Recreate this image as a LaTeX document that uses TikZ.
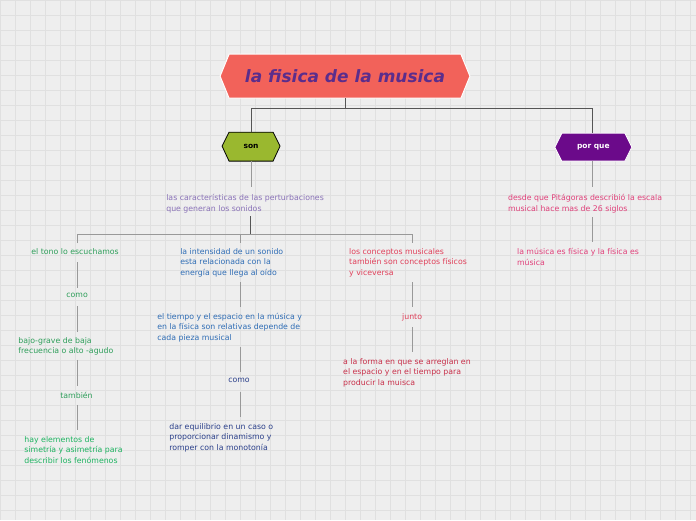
\documentclass[tikz,border=0pt]{standalone}
\usepackage{fontspec}
\setmainfont{DejaVu Sans}
\usetikzlibrary{shapes.geometric}
\definecolor{bg}{HTML}{EEEEEE}
\definecolor{gridc}{HTML}{E0E0E0}
\definecolor{ttl}{HTML}{F2625A}
\definecolor{ttltext}{HTML}{5B2D8C}
\definecolor{sonc}{HTML}{9AB82F}
\definecolor{porc}{HTML}{6B0A8A}
\definecolor{lav}{HTML}{8A72B8}
\definecolor{grn}{HTML}{2E9E5A}
\definecolor{grn2}{HTML}{1DB360}
\definecolor{blu}{HTML}{2F6DB5}
\definecolor{dblu}{HTML}{2A3F8A}
\definecolor{red1}{HTML}{E0405A}
\definecolor{red2}{HTML}{C8304A}
\definecolor{pink}{HTML}{E0407A}
\definecolor{conn}{HTML}{555555}
\tikzset{
  txt/.style={anchor=north west, align=left, inner sep=0pt, font=\fontsize{7.8}{10.5}\selectfont},
  lnk/.style={draw=conn, line width=0.9pt},
  lnk2/.style={draw=gray!80, line width=0.8pt}
}
\begin{document}
\begin{tikzpicture}[x=1pt,y=-1pt]
\fill[bg] (0,0) rectangle (696,520);
\foreach \i in {0,15,...,695} \draw[gridc,line width=0.5pt] (\i,0) -- (\i,520);
\foreach \j in {0,15,...,519} \draw[gridc,line width=0.5pt] (0,\j) -- (696,\j);
\useasboundingbox (0,0) rectangle (696,520);
% title
\fill[ttl,draw=white,line width=1pt] (220,76) -- (229,54) -- (461,54) -- (470,76) -- (461,98) -- (229,98) -- cycle;
\node (title) at (345,76) {\fontsize{17}{19}\selectfont\bfseries\itshape\color{ttltext}la fisica de la musica};
\coordinate (tb) at (345,98);
\fill[sonc,draw=black,line width=0.8pt] (222,146) -- (229,132) -- (273,132) -- (280,146) -- (273,161) -- (229,161) -- cycle;
\node (son) at (251,146.5) {\fontsize{7.5}{9}\selectfont\bfseries son};
\fill[porc,draw=white,line width=0.8pt] (555,147) -- (562,133) -- (625,133) -- (632,147) -- (625,161) -- (562,161) -- cycle;
\node (por) at (593.5,147) {\fontsize{7.5}{9}\selectfont\bfseries\color{white}por que};
\draw[lnk] (tb) -- (345,108) -| (251,132);
\draw[lnk] (345,108) -| (593,133);
% son branch
\node[txt,text=lav] (car) at (166,194) {las características de las perturbaciones\\que generan los sonidos};
\draw[lnk2] (251,161) -- (251,187);
\draw[lnk] (250,216) -- (250,234);
\draw[lnk2] (77,243) |- (250,234) -| (412,243);
\draw[lnk2] (240,234) -- (240,243);
% green
\node[txt,text=grn] (g1) at (31,248) {el tono lo escuchamos};
\node[txt,text=grn] (g2) at (66,293) {como};
\node[txt,text=grn] (g3) at (18,337) {bajo-grave de baja\\frecuencia o alto -agudo};
\node[txt,text=grn] (g4) at (60,392) {también};
\node[txt,text=grn2] (g5) at (24,436) {hay elementos de\\simetría y asimetría para\\describir los fenómenos};
\draw[lnk2] (77,262) -- (77,288);
\draw[lnk2] (77,306) -- (77,332);
\draw[lnk2] (77,360) -- (77,386);
\draw[lnk2] (77,405) -- (77,430);
% blue
\node[txt,text=blu] (b1) at (180,248) {la intensidad de un sonido\\esta relacionada con la\\energía que llega al oído};
\node[txt,text=blu] (b2) at (157,313) {el tiempo y el espacio en la música y\\en la física son relativas depende de\\cada pieza musical};
\node[txt,text=dblu] (b3) at (228,378) {como};
\node[txt,text=dblu] (b4) at (169,423) {dar equilibrio en un caso o\\proporcionar dinamismo y\\romper con la monotonía};
\draw[lnk2] (240,282) -- (240,307);
\draw[lnk2] (240,347) -- (240,372);
\draw[lnk2] (240,392) -- (240,417);
% red
\node[txt,text=red1] (r1) at (349,248) {los conceptos musicales\\también son conceptos físicos\\y viceversa};
\node[txt,text=red1] (r2) at (402,313) {junto};
\node[txt,text=red2] (r3) at (343,358) {a la forma en que se arreglan en\\el espacio y en el tiempo para\\producir la muisca};
\draw[lnk2] (412,282) -- (412,307);
\draw[lnk2] (412,327) -- (412,352);
% por que
\node[txt,text=pink] (p1) at (508,194) {desde que Pitágoras  describió la escala\\musical hace mas de 26 siglos};
\node[txt,text=pink] (p2) at (517,248) {la música es física y la física es\\música};
\draw[lnk2] (593,161) -- (593,187);
\draw[lnk2] (593,217) -- (593,242);
\end{tikzpicture}
\end{document}
